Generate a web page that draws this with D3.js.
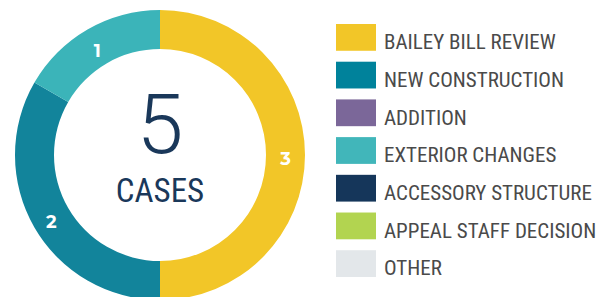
<!DOCTYPE html>
<meta charset="utf-8">
<style>
body { margin: 0; background: #fff; }
.legend text, .center text.cases {
  font-family: "Liberation Sans Narrow", "Roboto Condensed", Roboto, sans-serif;
}
</style>
<body>
<script src="https://d3js.org/d3.v7.min.js"></script>
<script>

var width = 614,
    height = 297;

// chart data
var categories = ["BAILEY BILL REVIEW", "NEW CONSTRUCTION", "ADDITION", "EXTERIOR CHANGES",
                  "ACCESSORY STRUCTURE", "APPEAL STAFF DECISION", "OTHER"];
var caseCounts = [3, 2, 0, 1, 0, 0, 0];
var totalLabel = "5";
var totalCaption = "CASES";

var legendColors = ["#f2c628", "#00829b", "#7b6799", "#41b6ba", "#15365a", "#b2d450", "#e3e7ea"];
var ringColors   = ["#f2c628", "#12849b", "#7b6799", "#3bb4b9", "#15365a", "#b2d450", "#e3e7ea"];

var cx = 160, cy = 155, outerR = 145, innerR = 106;

var svg = d3.select("body").append("svg")
    .attr("width", width)
    .attr("height", height);

var slices = categories.map(function(c, i){ return {name: c, value: caseCounts[i], i: i}; });

var pie = d3.pie()
    .sort(null)
    .value(function(d){ return d.value; });

var arc = d3.arc()
    .innerRadius(innerR)
    .outerRadius(outerR);

var labelArc = d3.arc()
    .innerRadius((innerR + outerR) / 2)
    .outerRadius((innerR + outerR) / 2);

var arcs = pie(slices).filter(function(d){ return d.data.value > 0; });

var ring = svg.append("g")
    .attr("transform", "translate(" + cx + "," + cy + ")");

ring.selectAll("path")
  .data(arcs)
  .enter().append("path")
  .attr("d", arc)
  .attr("fill", function(d){ return ringColors[d.data.i]; });

ring.selectAll("text")
  .data(arcs)
  .enter().append("text")
  .attr("transform", function(d){ return "translate(" + labelArc.centroid(d) + ")"; })
  .attr("text-anchor", "middle")
  .attr("y", 4)
  .attr("dy", "0.36em")
  .attr("fill", "#fff")
  .style("font-family", "Montserrat, 'DejaVu Sans', sans-serif")
  .style("font-weight", "bold")
  .style("font-size", "18px")
  .text(function(d){ return d.data.value; });

var center = svg.append("g").attr("class", "center")
    .attr("transform", "translate(" + cx + "," + cy + ")");

center.append("text")
  .attr("text-anchor", "middle")
  .attr("y", -2)
  .attr("fill", "#1a385a")
  .style("font-family", "Roboto, sans-serif")
  .style("font-weight", 300)
  .style("font-size", "84px")
  .text(totalLabel);

center.append("text")
  .attr("class", "cases")
  .attr("text-anchor", "middle")
  .attr("y", 47)
  .attr("fill", "#1a385a")
  .style("font-size", "33px")
  .text(totalCaption);

// legend
var y = d3.scaleBand()
    .domain(categories)
    .range([24, 277])
    .paddingInner(0.29)
    .paddingOuter(0);

var legend = svg.append("g").attr("class", "legend");

var rows = legend.selectAll("g")
  .data(categories)
  .enter().append("g")
  .attr("transform", function(d){ return "translate(336," + y(d) + ")"; });

rows.append("rect")
  .attr("width", 40)
  .attr("height", y.bandwidth())
  .attr("fill", function(d, i){ return legendColors[i]; });

rows.append("text")
  .attr("x", 48)
  .attr("y", y.bandwidth() - 1.5)
  .attr("fill", "#4a4a4a")
  .style("font-size", "21px")
  .text(function(d){ return d; });

</script>
